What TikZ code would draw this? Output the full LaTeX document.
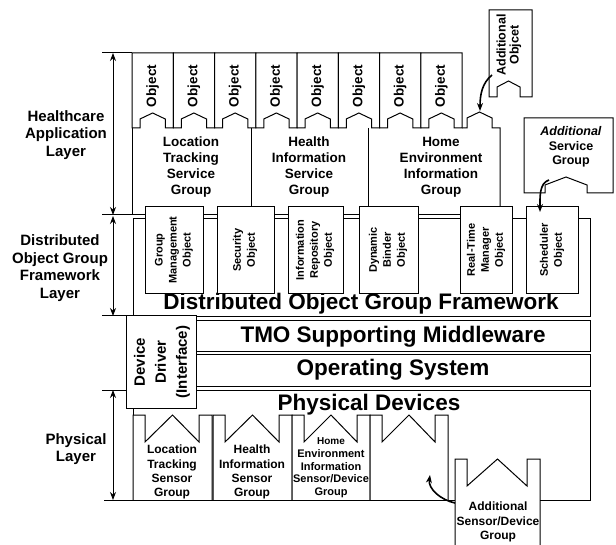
\documentclass[tikz,border=0pt]{standalone}
\usepackage{fontspec}
\setmainfont{Liberation Sans}
\usetikzlibrary{arrows.meta}
\tikzset{
  box/.style={draw, fill=white, line width=1pt},
  layerlabel/.style={font=\bfseries\fontsize{15}{17.5}\selectfont, align=center},
  objlabel/.style={font=\bfseries\fontsize{13.5}{13}\selectfont, rotate=90, align=center},
  grouplabel/.style={font=\bfseries\fontsize{13.5}{16}\selectfont, align=center},
  fwlabel/.style={font=\bfseries\fontsize{11}{14}\selectfont, align=center, rotate=90},
  biglabel/.style={font=\bfseries\fontsize{22.5}{26}\selectfont},
  sensorlabel/.style={font=\bfseries\fontsize{12}{14.2}\selectfont, align=center},
  layerspan/.style={{Stealth[length=8pt,width=6pt]}-{Stealth[length=8pt,width=6pt]}, line width=1pt},
  plug/.style={-{Stealth[length=8pt,width=6pt]}, line width=1.6pt},
}
% sensor group with a crown on top: x0, width, top, bottom
\newcommand{\sensorgroup}[4]{%
  \fill[white] (#1,#3) rectangle (#1+#2,#4);
  \draw[line width=1pt] (#1,#4) -- (#1,#3) -- ++(12,0) -- ++(0,27) -- (#1+#2/2,#3)
    -- (#1+#2-13,#3+27) -- ++(0,-27) -- (#1+#2,#3) -- (#1+#2,#4);
}
\begin{document}
\begin{tikzpicture}[x=1pt,y=-1pt,line width=1pt]
	\useasboundingbox (0,0) rectangle (616,545);
	% layer borders and spans
	\draw (102,53) -- (132,53);
	\draw (102,316) -- (126,316);
	\draw (102,390) -- (133,390);
	\draw (104,500) -- (133,500);
	\coordinate (hatop) at (113,53);
	\coordinate (habot) at (113,215);
	\coordinate (dotop) at (113,216);
	\coordinate (dobot) at (113,316);
	\coordinate (phtop) at (113,390);
	\coordinate (phbot) at (113,500);
	\draw[layerspan] (hatop) -- (habot);
	\draw[layerspan] (dotop) -- (dobot);
	\draw[layerspan] (phtop) -- (phbot);
	\node[layerlabel] (halayer) at (66,135) {Healthcare\\Application\\Layer};
	\node[layerlabel] (dolayer) at (60,268) {Distributed\\Object Group\\Framework\\Layer};
	\node[layerlabel] (phlayer) at (76,449) {Physical\\Layer};
	%
	% distributed object group framework
	\draw[box] (133,219) rectangle (590,317);
	\node[biglabel] (dogf) at (361,304) {Distributed Object Group Framework};
	%
	% service groups
	\draw (102,215) -- (500,215);
	\draw (132,128) -- (132,215);
	\draw (251,128) -- (251,215);
	\draw (368,128) -- (368,215);
	\draw (462,128) -- (467,128) -- (467,118) -- (479.5,112) -- (492,118) -- (492,128) -- (500,128) -- (500,215);
	\node[grouplabel] (ltsg) at (191,167) {Location\\Tracking\\Service\\Group};
	\node[grouplabel] (hisg) at (309,167) {Health\\Information\\Service\\Group};
	\node[grouplabel] (heig) at (441,167) {Home\\Environment\\Information\\Group};
	%
	% objects
	\foreach \i in {1,...,8}{
		\pgfmathsetmacro{\x}{132+41.25*(\i-1)}
		\draw[box] (\x,53) -- ++(41.25,0) -- ++(0,75) -- ++(-8,0) -- ++(0,-9) -- ++(-12.625,-6)
			-- ++(-12.625,6) -- ++(0,9) -- (\x,128) -- cycle;
		\node[objlabel] (obj\i) at (\x+20.625,86) {Object};
	}
	%
	% framework objects
	\draw[box] (145,207) rectangle (203,294);
	\node[fwlabel] (gmo) at (174,250) {Group\\Management\\Object};
	\draw[box] (217,207) rectangle (274,294);
	\node[fwlabel] (seco) at (245,250) {Security\\Object};
	\draw[box] (288,207) rectangle (343,294);
	\node[fwlabel] (iro) at (315,250) {Information\\Repository\\Object};
	\draw[box] (359,207) rectangle (418,294);
	\node[fwlabel] (dbo) at (388,250) {Dynamic\\Binder\\Object};
	\draw[box] (460,207) rectangle (512,294);
	\node[fwlabel] (rtmo) at (486,250) {Real-Time\\Manager\\Object};
	\draw[box] (526,207) rectangle (578,294);
	\node[fwlabel] (scho) at (552,250) {Scheduler\\Object};
	%
	% middleware, OS, devices
	\draw[box] (196,321) rectangle (590,352);
	\node[biglabel] (tmo) at (393,337) {TMO Supporting Middleware};
	\draw[box] (196,355) rectangle (590,386);
	\node[biglabel] (os) at (393,370) {Operating System};
	\draw[box] (133,390) rectangle (590,500);
	\node[biglabel] (phd) at (369,405) {Physical Devices};
	\draw[box] (126,316) rectangle (196,408);
	\node[font=\bfseries\fontsize{15}{21}\selectfont, align=center, rotate=90] (ddi) at (162,362) {Device\\Driver\\(Interface)};
	%
	% sensor groups
	\sensorgroup{133}{79}{415}{500}
	\sensorgroup{213}{79}{415}{500}
	\sensorgroup{292}{78}{415}{500}
	\sensorgroup{370}{78}{415}{500}
	\node[sensorlabel] (ltsens) at (172,472) {Location\\Tracking\\Sensor\\Group};
	\node[sensorlabel] (hisens) at (252,472) {Health\\Information\\Sensor\\Group};
	\node[font=\bfseries\fontsize{11}{12.7}\selectfont, align=center] (hesens) at (331,468) {\fontsize{10}{12.7}\selectfont Home\\Environment\\Information\\Sensor/Device\\Group};
	%
	% additional parts
	\draw[box] (489,10) -- (532,10) -- (532,97) -- (520,97) -- (520,87) -- (508.5,81) -- (497,87) -- (497,97) -- (489,97) -- cycle;
	\node[objlabel, font=\bfseries\fontsize{12.5}{13}\selectfont] (addobj) at (509,45) {Additional\\Objcet};
	\coordinate (addobjfoot) at (492,75);
	\coordinate (slottip) at (480,111);
	\draw[plug] (addobjfoot) .. controls +(-10,8) and +(0,-16) .. (slottip);
	%
	\draw[box] (524,118) -- (613,118) -- (613,193) -- (587,193) -- (587,185) -- (566,177) -- (545,185) -- (545,193) -- (524,193) -- cycle;
	\node[grouplabel, font=\bfseries\fontsize{12.5}{14.5}\selectfont] (addsvc) at (571,147) {\textit{Additional}\\Service\\Group};
	\coordinate (addsvcfoot) at (549,180);
	\coordinate (schedtop) at (540,212);
	\draw[plug] (addsvcfoot) .. controls +(-10,3) and +(0,-14) .. (schedtop);
	%
	\sensorgroup{455}{85}{459}{545}
	\node[sensorlabel] (addsens) at (498,522) {Additional\\Sensor/Device\\Group};
	\coordinate (addsensfoot) at (455,503);
	\coordinate (blanktip) at (430,475);
	\draw[plug] (addsensfoot) .. controls +(-14,-3) and +(-2,14) .. (blanktip);
\end{tikzpicture}
\end{document}
